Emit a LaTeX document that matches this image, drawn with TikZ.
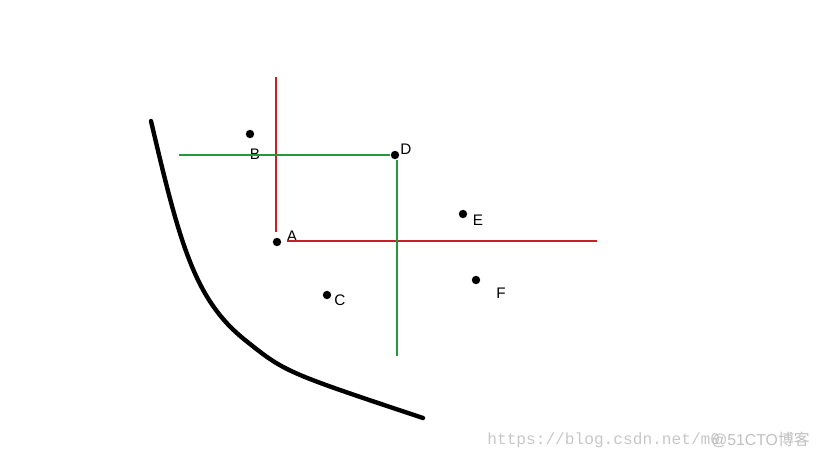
\documentclass[tikz,border=0pt]{standalone}
\usepackage{fontspec}
\setsansfont{Liberation Sans}
\newfontfamily\markfont{Liberation Mono}
\newfontfamily\cjkfont{Noto Sans CJK SC}
\usetikzlibrary{positioning}

\tikzset{
	dot/.style={circle,fill=black,inner sep=0pt,minimum size=4.8pt},
	lbl/.style={inner sep=0pt,font=\sffamily\fontsize{8.7}{10}\selectfont},
	redline/.style={draw={rgb,255:red,200;green,30;blue,40},line width=0.6pt},
	greenline/.style={draw={rgb,255:red,40;green,150;blue,60},line width=0.6pt},
	bound/.style={line width=2.5pt,line cap=round,line join=round}
}

\begin{document}
\begin{tikzpicture}[x=0.02cm,y=-0.02cm]
		\useasboundingbox (0,0) rectangle (819,460);
		\foreach \n/\px/\py/\lx/\ly in {A/277/242/292/236,B/250/134/255/154,C/327/295/340/300,D/395/155/406/149,E/463/214/478/220,F/476/280/501/293}{
			\node[dot] (\n) at (\px,\py) {};
			\node[lbl] (lbl\n) at (\lx,\ly) {\n};
		}
		\coordinate (redtop) at (276,77);
		\coordinate (redbottom) at (276,232);
		\coordinate (redleft) at (287,241);
		\coordinate (redright) at (597,241);
		\coordinate (greenleft) at (179,155);
		\coordinate (greentop) at (397,160);
		\coordinate (greenbottom) at (397,356);
		\draw[redline] (redtop) -- (redbottom);
		\draw[redline] (redleft) -- (redright);
		\draw[greenline] (greenleft) -- (D.west);
		\draw[greenline] (greentop) -- (greenbottom);
		\draw[bound] (151,121) .. controls (180,245) and (195,300) .. (245,340) .. controls (285,372) .. (423,418);
		\node[anchor=west,inner sep=0pt,text=black!22,font=\markfont\fontsize{9.2}{10}\selectfont] (mark) at (487,440) {https://blog.csdn.net/m0};
		\node[anchor=east,inner sep=0pt,text=black!25,font=\sffamily\fontsize{9}{10}\selectfont] (mark2) at (810,440) {@51CTO\cjkfont 博客};
\end{tikzpicture}
\end{document}
